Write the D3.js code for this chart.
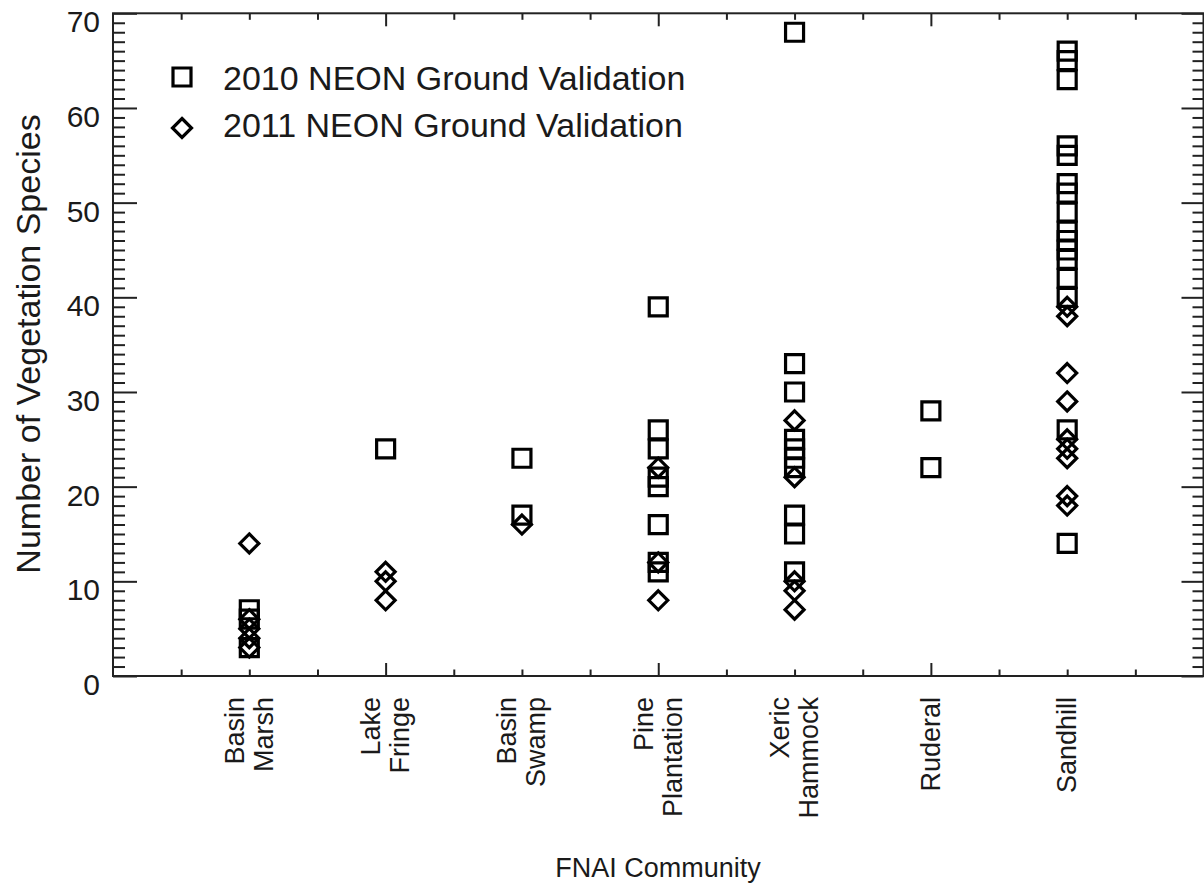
<!DOCTYPE html>
<html>
<head>
<meta charset="utf-8">
<script src="https://cdnjs.cloudflare.com/ajax/libs/d3/7.8.5/d3.min.js"></script>
<style>
  body { margin: 0; background: #fff; }
  text { font-family: "Liberation Sans", Arial, sans-serif; fill: #1a1a1a; }
</style>
</head>
<body>
<script>
'use strict';

// categories (FNAI community), drawn at x = 1..7
const categories = ["Basin Marsh", "Lake Fringe", "Basin Swamp", "Pine Plantation",
                    "Xeric Hammock", "Ruderal", "Sandhill"];
const categoryLines = [["Basin", "Marsh"], ["Lake", "Fringe"], ["Basin", "Swamp"],
                       ["Pine", "Plantation"], ["Xeric", "Hammock"], ["Ruderal"], ["Sandhill"]];

// number of vegetation species per plot
const species2010 = [
  [7, 6, 3],
  [24],
  [23, 17],
  [39, 26, 24, 21, 20, 16, 12, 11],
  [68, 33, 30, 25, 24, 23, 22, 17, 15, 11],
  [28, 22],
  [66, 65, 63, 56, 55, 52, 51, 49, 47, 46, 45, 44, 42, 40, 26, 14]
];
const species2011 = [
  [14, 6, 5, 4, 3],
  [11, 10, 8],
  [16],
  [22, 12, 8],
  [27, 21, 10, 9, 7],
  [],
  [39, 38, 32, 29, 25, 24, 23, 19, 18]
];

const legendLabels = ["2010 NEON Ground Validation", "2011 NEON Ground Validation"];
const yMajorTicks = [0, 10, 20, 30, 40, 50, 60, 70];

(function() {

  let svgContainer = "";

  window.onload = function() {
    svgContainer = d3.select('body')
      .append('svg')
      .attr('width', 1204)
      .attr('height', 886);
    makeScatterPlot();
  }

  function makeScatterPlot() {
    let map = drawAxes();
    plotData(map);
    makeLegend();
    makeLabels(map);
  }

  // flatten the per-category arrays into rows of {x, y}
  function toRows(series) {
    let rows = [];
    series.forEach((vals, i) => vals.forEach(v => rows.push({ x: i + 1, y: v })));
    return rows;
  }

  function squarePath(size) {
    let h = size / 2;
    return `M${-h},${-h}H${h}V${h}H${-h}Z`;
  }

  function diamondPath(size) {
    let h = size / 2;
    return `M0,${-h}L${h},0L0,${h}L${-h},0Z`;
  }

  function plotData(map) {
    svgContainer.selectAll('.sq')
      .data(toRows(species2010))
      .enter()
      .append('path')
        .attr('class', 'sq')
        .attr('d', squarePath(18))
        .attr('transform', d => `translate(${map.xScale(d.x)},${map.yScale(d.y)})`)
        .attr('fill', 'none')
        .attr('stroke', '#000')
        .attr('stroke-width', 3.2);

    svgContainer.selectAll('.dia')
      .data(toRows(species2011))
      .enter()
      .append('path')
        .attr('class', 'dia')
        .attr('d', diamondPath(19))
        .attr('transform', d => `translate(${map.xScale(d.x)},${map.yScale(d.y)})`)
        .attr('fill', 'none')
        .attr('stroke', '#000')
        .attr('stroke-width', 3.2);
  }

  function makeLegend() {
    let g = svgContainer.append('g');
    g.append('path')
      .attr('d', squarePath(18))
      .attr('transform', 'translate(182,77)')
      .attr('fill', 'none').attr('stroke', '#000').attr('stroke-width', 3.2);
    g.append('path')
      .attr('d', diamondPath(19))
      .attr('transform', 'translate(182,128)')
      .attr('fill', 'none').attr('stroke', '#000').attr('stroke-width', 3.2);
    g.selectAll('.legtext')
      .data(legendLabels)
      .enter()
      .append('text')
        .attr('x', 223)
        .attr('y', (d, i) => 90 + i * 47)
        .style('font-size', '34px')
        .text(d => d);
  }

  // category names, axis titles
  function makeLabels(map) {
    categoryLines.forEach((lines, i) => {
      let cx = map.xScale(i + 1);
      lines.forEach((line, j) => {
        let off = (j - (lines.length - 1) / 2) * 29 + 9;
        svgContainer.append('text')
          .attr('transform', `translate(${cx + off},697)rotate(-90)`)
          .attr('text-anchor', 'end')
          .style('font-size', '27px')
          .text(line);
      });
    });

    svgContainer.append('text')
      .attr('x', 658)
      .attr('y', 877)
      .attr('text-anchor', 'middle')
      .style('font-size', '27px')
      .text('FNAI Community');

    svgContainer.append('text')
      .attr('transform', 'translate(40,344)rotate(-90)')
      .attr('text-anchor', 'middle')
      .style('font-size', '34px')
      .text('Number of Vegetation Species');
  }

  // box axes with inward major and minor ticks
  function drawAxes() {
    let xScale = d3.scaleLinear().domain([0, 8]).range([113, 1203.5]);
    let yScale = d3.scaleLinear().domain([0, 70]).range([676, 13.3]);

    let xMinor = d3.range(0.5, 8, 0.5).filter(v => v % 2 !== 0);
    let xMajor = [2, 4, 6];
    let yMinor = d3.range(1, 70).filter(v => v % 10 !== 0);

    const axes = [
      [d3.axisBottom(xScale).tickValues(xMajor).tickSize(-13), 'translate(0,676)'],
      [d3.axisBottom(xScale).tickValues(xMinor).tickSize(-6.5), 'translate(0,676)'],
      [d3.axisTop(xScale).tickValues(xMajor).tickSize(-13), 'translate(0,13.3)'],
      [d3.axisTop(xScale).tickValues(xMinor).tickSize(-6.5), 'translate(0,13.3)'],
      [d3.axisRight(yScale).tickValues(yMajorTicks).tickSize(-22), 'translate(1203.5,0)'],
      [d3.axisRight(yScale).tickValues(yMinor).tickSize(-11), 'translate(1203.5,0)'],
      [d3.axisLeft(yScale).tickValues(yMinor).tickSize(-12), 'translate(113,0)']
    ];
    axes.forEach(a => {
      svgContainer.append('g')
        .attr('transform', a[1])
        .call(a[0].tickFormat(''))
        .call(g => g.selectAll('line').attr('stroke', '#222').attr('stroke-width', 2))
        .call(g => g.select('.domain').remove());
    });

    // left axis with labels
    let yAxis = d3.axisLeft(yScale).tickValues(yMajorTicks).tickSize(-24).tickPadding(13);
    svgContainer.append('g')
      .attr('transform', 'translate(113,0)')
      .call(yAxis)
      .call(g => g.selectAll('line').attr('stroke', '#222').attr('stroke-width', 2))
      .call(g => g.select('.domain').remove())
      .call(g => g.selectAll('text')
        .attr('dy', '0.62em')
        .style('font-family', '"Liberation Sans", Arial, sans-serif')
        .style('font-size', '30px')
        .attr('fill', '#1a1a1a'));

    // plot box
    svgContainer.append('rect')
      .attr('x', xScale(0))
      .attr('y', yScale(70))
      .attr('width', xScale(8) - xScale(0))
      .attr('height', yScale(0) - yScale(70))
      .attr('fill', 'none')
      .attr('stroke', '#222')
      .attr('stroke-width', 2);

    return { xScale: xScale, yScale: yScale };
  }

})();
</script>
</body>
</html>
